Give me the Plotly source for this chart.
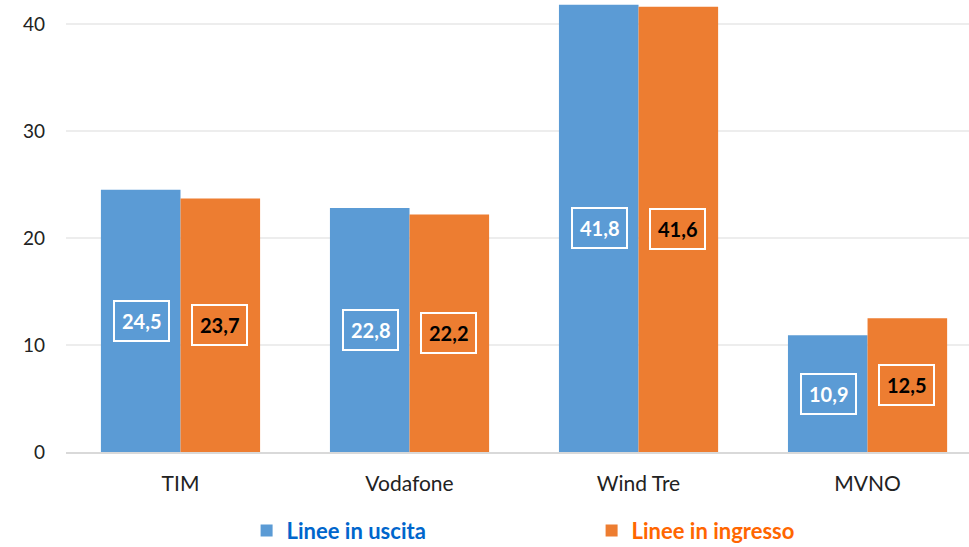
import plotly.graph_objects as go

categories = ["TIM", "Vodafone", "Wind Tre", "MVNO"]
uscita = [24.5, 22.8, 41.8, 10.9]
ingresso = [23.7, 22.2, 41.6, 12.5]
series_names = ["Linee in uscita", "Linee in ingresso"]
tick_vals = [0, 10, 20, 30, 40]

BLUE = "#5B9BD5"
ORANGE = "#ED7D31"
FONT = "Lato, Carlito, 'Open Sans', sans-serif"

fig = go.Figure()
fig.add_trace(go.Bar(
    x=categories, y=uscita, marker=dict(color=BLUE, line=dict(width=0)),
    name="<span style='color:#0066CC'><b>" + series_names[0] + "</b></span>"))
fig.add_trace(go.Bar(
    x=categories, y=ingresso, marker=dict(color=ORANGE, line=dict(width=0)),
    name="<span style='color:#FF6600'><b>" + series_names[1] + "</b></span>"))

def fmt(v):
    return ("%.1f" % v).replace(".", ",")

for cat, v in zip(categories, uscita):
    fig.add_annotation(x=cat, y=v / 2, xshift=-39, text="<b>" + fmt(v) + "</b>",
                       showarrow=False, font=dict(family=FONT, size=20, color="white"),
                       bordercolor="white", borderwidth=2, borderpad=7)
for cat, v in zip(categories, ingresso):
    fig.add_annotation(x=cat, y=v / 2, xshift=39, text="<b>" + fmt(v) + "</b>",
                       showarrow=False, font=dict(family=FONT, size=20, color="black"),
                       bordercolor="white", borderwidth=2, borderpad=7)

fig.update_layout(
    width=969, height=547,
    margin=dict(l=66, r=0, t=0, b=95, autoexpand=False),
    paper_bgcolor="white", plot_bgcolor="white",
    barmode="group", bargap=0.305, bargroupgap=0,
    separators=",.",
    font=dict(family=FONT, size=21, color="#222222"),
    showlegend=True,
    legend=dict(orientation="h", x=0.2, xanchor="left", yref="container", y=0.03, yanchor="middle",
                font=dict(family=FONT, size=22), entrywidth=300, entrywidthmode="pixels",
                bgcolor="rgba(0,0,0,0)"),
    xaxis=dict(range=[-0.5, 3.443], showgrid=False, showline=True, linecolor="#D9D9D9",
               linewidth=1.5, ticks="", tickfont=dict(size=21, color="#222222"),
               ticklabelstandoff=12, automargin=False),
    yaxis=dict(range=[0, 42.24], tickvals=tick_vals, showgrid=True, gridcolor="#EDEDED",
               gridwidth=1.5, zeroline=False, showline=False, ticks="",
               tickfont=dict(size=19, color="#222222"), ticklabelstandoff=20, automargin=False),
)

fig.write_html("out.html", config={"displayModeBar": False},
               post_script="document.body.style.margin='0';")
